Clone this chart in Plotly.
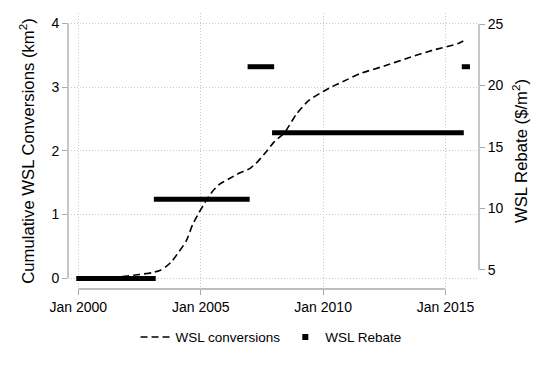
import plotly.graph_objects as go

# ---- data ----
conv_dates = ["2000-01-01", "2000-07-01", "2001-01-01", "2001-07-01", "2002-01-01", "2002-07-01",
              "2003-01-01", "2003-05-01", "2003-08-01", "2003-11-01", "2004-02-01", "2004-06-01",
              "2004-09-01", "2004-12-01", "2005-03-01", "2005-06-01", "2005-10-01", "2006-03-01",
              "2006-08-01", "2007-01-01", "2007-05-01", "2007-09-01", "2008-01-01", "2008-06-01",
              "2008-12-01", "2009-06-01", "2010-01-01", "2010-07-01", "2011-01-01", "2011-07-01",
              "2012-07-01", "2013-07-01", "2014-07-01", "2015-07-01", "2015-11-15"]
conv_values = [0.0, 0.003, 0.008, 0.016, 0.035, 0.058,
               0.085, 0.12, 0.18, 0.27, 0.40, 0.59,
               0.84, 1.02, 1.18, 1.33, 1.47, 1.56,
               1.65, 1.72, 1.83, 1.98, 2.14, 2.28,
               2.58, 2.79, 2.93, 3.03, 3.12, 3.21,
               3.33, 3.46, 3.58, 3.68, 3.75]

rebate_start = ["1999-12-01", "2003-02-01", "2006-12-01", "2007-12-01", "2015-09-01"]
rebate_end = ["2003-03-01", "2007-01-01", "2008-01-01", "2015-10-01", "2016-01-01"]
rebate_value = [4.31, 10.76, 21.53, 16.15, 21.53]

x_tick_vals = ["2000-01-01", "2005-01-01", "2010-01-01", "2015-01-01"]
x_tick_text = ["Jan 2000", "Jan 2005", "Jan 2010", "Jan 2015"]
left_ticks = [0, 1, 2, 3, 4]
right_ticks = [5, 10, 15, 20, 25]

# build rebate segments
rx, ry = [], []
for s, e, v in zip(rebate_start, rebate_end, rebate_value):
    rx += [s, e, None]
    ry += [v, v, None]

FONT = "Liberation Sans, Arial, Helvetica, sans-serif"
AXC = "#a8a8a8"
GRID = "#c8c8c8"

fig = go.Figure()
fig.add_trace(go.Scatter(x=conv_dates, y=conv_values, mode="lines", name="WSL conversions",
                         line=dict(color="black", width=1.6, dash="7px,4px", shape="spline", smoothing=0.6),
                         yaxis="y"))
fig.add_trace(go.Scatter(x=rx, y=ry, mode="lines", name="WSL Rebate", showlegend=False,
                         line=dict(color="black", width=5), yaxis="y2", connectgaps=False))
fig.add_trace(go.Scatter(x=[None], y=[None], mode="markers", name="WSL Rebate",
                         marker=dict(symbol="square", size=6, color="black"), yaxis="y2"))

fig.update_layout(
    width=554, height=369,
    margin=dict(l=68, r=75, t=13, b=80, autoexpand=False),
    paper_bgcolor="white", plot_bgcolor="white",
    font=dict(family=FONT, size=13, color="black"),
    showlegend=True,
    legend=dict(orientation="h", x=0.494, xanchor="center", y=-0.175, yanchor="middle",
                font=dict(size=13.5), itemwidth=30, tracegroupgap=0),
    xaxis=dict(type="date", range=["1999-07-31", "2016-05-15"], automargin=False,
               tickvals=x_tick_vals, ticktext=x_tick_text,
               showgrid=True, gridcolor=GRID, griddash="1px,2px", gridwidth=1,
               zeroline=False, showline=False,
               ticks="outside", ticklen=5, tickcolor=AXC, tickwidth=1.2,
               tickfont=dict(size=14)),
    yaxis=dict(range=[-0.17, 4.162], tickvals=left_ticks, automargin=False,
               showgrid=True, gridcolor=GRID, griddash="1px,2px", gridwidth=1,
               zeroline=False, showline=False,
               ticks="outside", ticklen=5, tickcolor=AXC, tickwidth=1.2,
               tickfont=dict(size=14),
               title=dict(text="Cumulative WSL Conversions (km<sup>2</sup>)", font=dict(size=16.7), standoff=12)),
    yaxis2=dict(range=[3.45, 25.9], tickvals=right_ticks, overlaying="y", side="right", automargin=False,
                showgrid=False, zeroline=False, showline=False,
                ticks="outside", ticklen=5, tickcolor=AXC, tickwidth=1.2,
                tickfont=dict(size=14),
                title=dict(text="WSL Rebate ($/m<sup>2</sup>)", font=dict(size=16.7), standoff=12)),
)

# axis lines spanning only the tick range
fig.add_shape(type="line", xref="paper", yref="y", x0=0, x1=0, y0=left_ticks[0], y1=left_ticks[-1],
              line=dict(color=AXC, width=1.3))
fig.add_shape(type="line", xref="paper", yref="y2", x0=1, x1=1, y0=right_ticks[0], y1=right_ticks[-1],
              line=dict(color=AXC, width=1.3))
fig.add_shape(type="line", xref="x", yref="paper", x0=x_tick_vals[0], x1=x_tick_vals[-1], y0=0, y1=0,
              line=dict(color=AXC, width=1.3))

fig.write_html("out.html", config={"displayModeBar": False},
               post_script="document.body.style.margin='0';")
